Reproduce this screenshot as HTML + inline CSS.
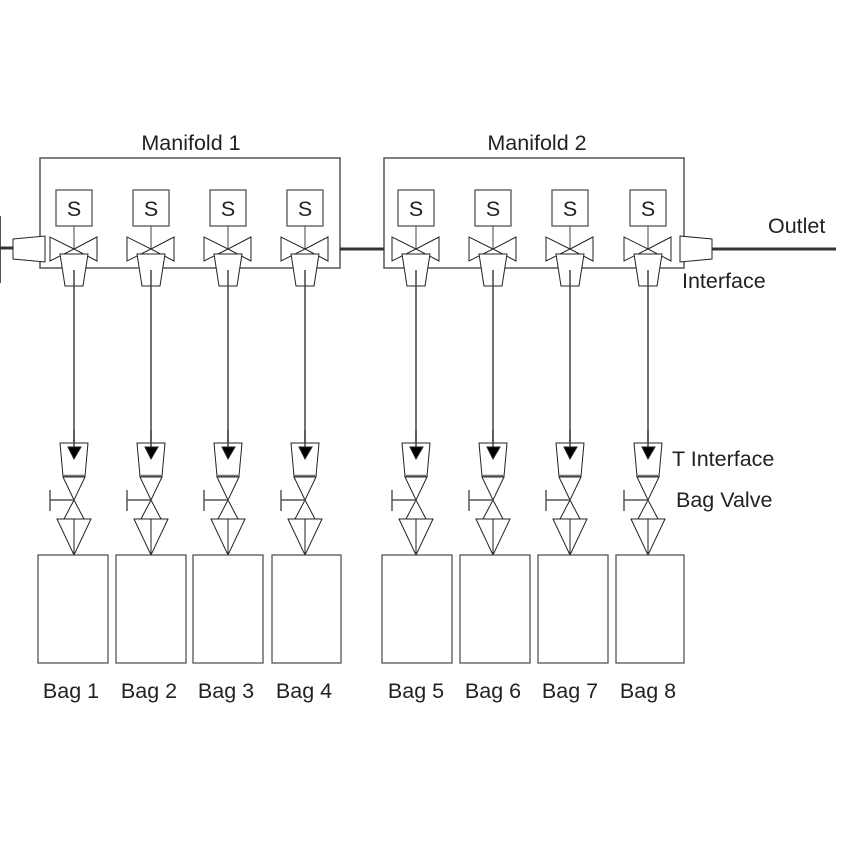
<!DOCTYPE html>
<html><head><meta charset="utf-8"><style>
html,body{margin:0;padding:0;background:#fff;}
svg{display:block;}
text{font-family:"Liberation Sans",Arial,sans-serif;fill:#222;}
</style></head><body>
<svg width="844" height="844" viewBox="0 0 844 844" xmlns="http://www.w3.org/2000/svg">
<defs>
<g id="top" fill="#fff" stroke="#222" stroke-width="1">
  <rect x="-18" y="190" width="36" height="36" stroke="#555" stroke-width="1.3"/>
  <line x1="0" y1="226" x2="0" y2="249" stroke="#444"/>
  <polygon points="-24,237 -24,261 0,249"/>
  <polygon points="23,237 23,261 0,249"/>
  <polygon points="-14,254 14,254 9,286 -9,286"/>
  <line x1="0" y1="270" x2="0" y2="444" stroke="#444" stroke-width="1.5"/>
</g>
<g id="bot" fill="#fff" stroke="#222" stroke-width="1">
  <polygon points="-14,443 14,443 11,476 -11,476"/>
  <line x1="0" y1="430" x2="0" y2="454" stroke="#444" stroke-width="1.5"/>
  <polygon points="-6,447 7,447 0,459" fill="#000"/>
  <line x1="-11" y1="476" x2="11" y2="476" stroke="#777" stroke-width="2.5"/>
  <polygon points="-11,477 11,477 0,500"/>
  <polygon points="-10,519 10,519 0,500"/>
  <line x1="-24" y1="500" x2="0" y2="500" stroke="#555" stroke-width="1.5"/>
  <line x1="-24" y1="490" x2="-24" y2="511" stroke="#555" stroke-width="1.5"/>
  <polygon points="-17,519 17,519 0,555"/>
  <line x1="0" y1="519" x2="0" y2="555"/>
</g>
</defs>
<text x="191" y="150" font-size="21.5" text-anchor="middle">Manifold 1</text>
<text x="537" y="150" font-size="21.5" text-anchor="middle">Manifold 2</text>
<rect x="40" y="158" width="300" height="110" fill="none" stroke="#555" stroke-width="1.5"/>
<rect x="384" y="158" width="300" height="110" fill="none" stroke="#555" stroke-width="1.5"/>
<line x1="340" y1="249" x2="384" y2="249" stroke="#333" stroke-width="3"/>
<line x1="0" y1="216" x2="0" y2="283" stroke="#555" stroke-width="2"/>
<line x1="0" y1="248" x2="13" y2="248" stroke="#333" stroke-width="3"/>
<polygon points="13,239 45,236 45,262 13,259" fill="#fff" stroke="#222"/>
<polygon points="680,236 712,239 712,259 680,262" fill="#fff" stroke="#222"/>
<line x1="712" y1="249" x2="836" y2="249" stroke="#333" stroke-width="3"/>
<text x="768" y="233" font-size="21.5">Outlet</text>
<text x="682" y="288" font-size="21.5">Interface</text>
<text x="672" y="466" font-size="21.5">T Interface</text>
<text x="676" y="507" font-size="21.5">Bag Valve</text>
<use href="#top" x="74"/><use href="#top" x="151"/><use href="#top" x="228"/><use href="#top" x="305"/>
<use href="#top" x="416"/><use href="#top" x="493"/><use href="#top" x="570"/><use href="#top" x="648"/>
<g font-size="21.5" text-anchor="middle">
<text x="74" y="216">S</text><text x="151" y="216">S</text><text x="228" y="216">S</text><text x="305" y="216">S</text>
<text x="416" y="216">S</text><text x="493" y="216">S</text><text x="570" y="216">S</text><text x="648" y="216">S</text>
</g>
<use href="#bot" x="74"/><use href="#bot" x="151"/><use href="#bot" x="228"/><use href="#bot" x="305"/>
<use href="#bot" x="416"/><use href="#bot" x="493"/><use href="#bot" x="570"/><use href="#bot" x="648"/>
<g fill="none" stroke="#555" stroke-width="1.3">
<rect x="38" y="555" width="70" height="108"/><rect x="116" y="555" width="70" height="108"/>
<rect x="193" y="555" width="70" height="108"/><rect x="272" y="555" width="69" height="108"/>
<rect x="382" y="555" width="70" height="108"/><rect x="460" y="555" width="70" height="108"/>
<rect x="538" y="555" width="70" height="108"/><rect x="616" y="555" width="68" height="108"/>
</g>
<g font-size="21.5" text-anchor="middle">
<text x="71" y="698">Bag 1</text><text x="149" y="698">Bag 2</text><text x="226" y="698">Bag 3</text><text x="304" y="698">Bag 4</text>
<text x="416" y="698">Bag 5</text><text x="493" y="698">Bag 6</text><text x="570" y="698">Bag 7</text><text x="648" y="698">Bag 8</text>
</g>
</svg>
</body></html>
